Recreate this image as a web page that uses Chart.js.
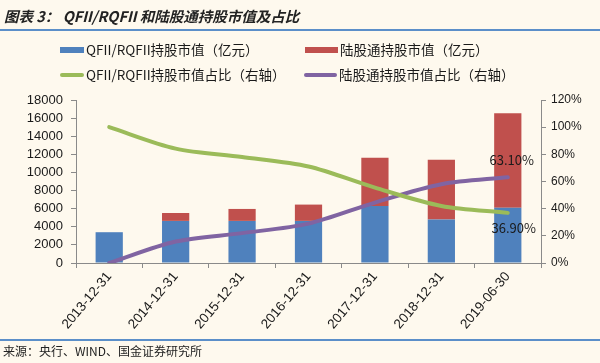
<!DOCTYPE html>
<html><head><meta charset="utf-8">
<script src="https://cdn.jsdelivr.net/npm/chart.js@4/dist/chart.umd.min.js"></script>
<style>
html,body{margin:0;padding:0;background:#FEF9EE;width:600px;height:363px;overflow:hidden;font-family:"Noto Sans CJK SC","Noto Sans",sans-serif;}
#wrap{position:relative;width:600px;height:363px;}
canvas{position:absolute;left:0;top:0;}
.t{position:absolute;white-space:nowrap;color:#1a1a1a;}
#title{left:4px;top:5px;font-size:14.5px;font-weight:bold;font-style:italic;color:#222;}
.rule{position:absolute;left:0;width:600px;height:2px;background:#5B8FC9;}
.leg{position:absolute;font-size:13.5px;color:#1a1a1a;white-space:nowrap;line-height:16px;}
.sw{position:absolute;}
#src{left:3px;top:342px;font-size:12px;color:#222;}
</style></head>
<body><div id="wrap">
<canvas id="c" width="600" height="363"></canvas>
<div id="title" class="t">图表 3： QFII/RQFII 和陆股通持股市值及占比</div>
<div class="rule" style="top:29px"></div>
<div id="legend"></div>
<div class="rule" style="top:339px"></div>
<div id="src" class="t">来源：央行、WIND、国金证券研究所</div>
</div>
<script>
const categories = ['2013-12-31','2014-12-31','2015-12-31','2016-12-31','2017-12-31','2018-12-31','2019-06-30'];
const qfiiValue = [3400, 4650, 4650, 4650, 6300, 4800, 6100];
const hkConnectValue = [0, 870, 1320, 1800, 5330, 6600, 10430];
const qfiiShare = [100, 84.2, 78, 71, 55.5, 42, 36.9];
const hkConnectShare = [0, 15.8, 22, 29, 44.5, 58, 63.1];
const seriesNames = ['QFII/RQFII持股市值（亿元）','陆股通持股市值（亿元）','QFII/RQFII持股市值占比（右轴）','陆股通持股市值占比（右轴）'];
const leftTicks = [0,2000,4000,6000,8000,10000,12000,14000,16000,18000];
const rightTicks = [0,20,40,60,80,100,120];

const COL = {blue:'#4F81BD', red:'#C0504D', green:'#9BBB59', purple:'#8064A2', axis:'#8a8a8a'};

// HTML legend
const legend = document.getElementById('legend');
const legItems = [
  {name:seriesNames[0], color:COL.blue, kind:'box', x:60, y:50},
  {name:seriesNames[1], color:COL.red, kind:'box', x:305, y:50},
  {name:seriesNames[2], color:COL.green, kind:'line', x:60, y:75},
  {name:seriesNames[3], color:COL.purple, kind:'line', x:304, y:75}
];
legItems.forEach(it=>{
  const sw = document.createElement('div');
  sw.className='sw';
  const w = it.x<100 ? 24 : 33;
  const h = it.kind==='box'?6:4;
  sw.style.cssText = `left:${it.x}px;top:${it.y-h/2}px;width:${w}px;height:${h}px;background:${it.color};`+(it.kind==='line'?'border-radius:2px;':'');
  legend.appendChild(sw);
  const tx = document.createElement('div');
  tx.className='leg';
  tx.textContent = it.name;
  tx.style.left = (it.x + w + 2) + 'px';
  tx.style.top = (it.y - 9) + 'px';
  legend.appendChild(tx);
});

const endLabels = {
  id:'endLabels',
  afterDatasetsDraw(chart){
    const ctx = chart.ctx;
    const y1 = chart.scales.y1, x = chart.scales.x;
    const last = categories.length-1;
    ctx.save();
    ctx.font = '13px "Noto Sans CJK SC", sans-serif';
    ctx.fillStyle = '#1a1a1a';
    ctx.textAlign = 'center';
    ctx.textBaseline = 'middle';
    const px = x.getPixelForValue(last);
    ctx.fillText(hkConnectShare[last].toFixed(2)+'%', px+4, y1.getPixelForValue(hkConnectShare[last]) - 17);
    ctx.fillText(qfiiShare[last].toFixed(2)+'%', px+6, y1.getPixelForValue(qfiiShare[last]) + 15);
    ctx.restore();
  }
};

new Chart(document.getElementById('c'), {
  data:{
    labels:categories,
    datasets:[
      {type:'line', label:seriesNames[2], data:qfiiShare, yAxisID:'y1', borderColor:COL.green, backgroundColor:COL.green, borderWidth:4, pointRadius:0, tension:0.3, order:1, borderCapStyle:'round'},
      {type:'line', label:seriesNames[3], data:hkConnectShare, yAxisID:'y1', borderColor:COL.purple, backgroundColor:COL.purple, borderWidth:4, pointRadius:0, tension:0.3, order:2, borderCapStyle:'round'},
      {type:'bar', label:seriesNames[0], data:qfiiValue, yAxisID:'y', backgroundColor:COL.blue, stack:'s', order:3, categoryPercentage:1, barPercentage:0.41},
      {type:'bar', label:seriesNames[1], data:hkConnectValue, yAxisID:'y', backgroundColor:COL.red, stack:'s', order:4, categoryPercentage:1, barPercentage:0.41}
    ]
  },
  options:{
    responsive:false, animation:false,
    layout:{padding:{top:100,left:0,right:0,bottom:0}},
    plugins:{legend:{display:false}, tooltip:{enabled:false}},
    scales:{
      x:{
        stacked:true, offset:true,
        grid:{display:true, drawOnChartArea:false, drawTicks:true, tickLength:5, color:COL.axis, offset:true},
        border:{display:true, color:COL.axis, width:1},
        ticks:{color:'#1a1a1a', font:{family:'"Liberation Sans", Arial, sans-serif', size:13.5}, maxRotation:50, minRotation:50, padding:1, autoSkip:false},
        afterFit(s){ s.height = 100; }
      },
      y:{
        stacked:true, position:'left', min:0, max:18000,
        afterBuildTicks(s){ s.ticks = leftTicks.map(v=>({value:v})); },
        grid:{display:true, drawOnChartArea:false, drawTicks:true, tickLength:5, color:COL.axis},
        border:{display:true, color:COL.axis, width:1},
        ticks:{color:'#1a1a1a', font:{family:'"Liberation Sans", Arial, sans-serif', size:13}, padding:8, autoSkip:false, callback:v=>String(v)},
        afterFit(s){ s.width = 76; }
      },
      y1:{
        position:'right', min:0, max:120,
        afterBuildTicks(s){ s.ticks = rightTicks.map(v=>({value:v})); },
        grid:{display:true, drawOnChartArea:false, drawTicks:true, tickLength:5, color:COL.axis},
        border:{display:true, color:COL.axis, width:1},
        ticks:{color:'#1a1a1a', font:{family:'"Liberation Sans", Arial, sans-serif', size:12}, padding:5, autoSkip:false, callback:v=>v+'%'},
        afterFit(s){ s.width = 59; }
      }
    }
  },
  plugins:[endLabels]
});
</script>
</body></html>
